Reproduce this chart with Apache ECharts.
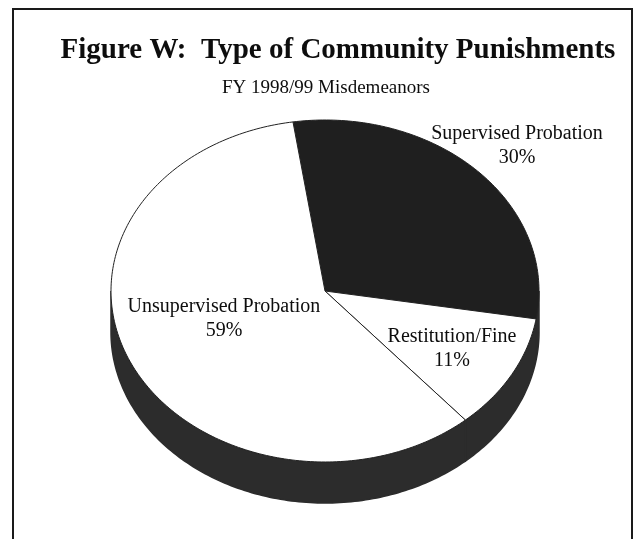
<!DOCTYPE html>
<html>
<head>
<meta charset="utf-8">
<script src="https://cdn.jsdelivr.net/npm/echarts@6/dist/echarts.min.js"></script>
<style>
html,body{margin:0;padding:0;background:#fff;}
#chart{width:635px;height:539px;}
</style>
</head>
<body>
<div id="chart"></div>
<script>
// ---- data ----
const titleText = 'Figure W:  Type of Community Punishments';
const subtitleText = 'FY 1998/99 Misdemeanors';
const categories = ['Supervised Probation', 'Restitution/Fine', 'Unsupervised Probation'];
const shares = [30, 11, 59];

// ---- styling ----
const sliceColors = ['#1f1f1f', '#ffffff', '#ffffff'];
const sideColor = '#2c2c2c';
const labelRadius = [1.26, 0.68, 0.52];
const labelShiftY = [6, 1, -10];
const geom = { cx: 325, cy: 291, rx: 214, ry: 171, depth: 41, startDeg: -8.6 };
const serif = "'Liberation Serif', 'Times New Roman', serif";

const total = shares.reduce((a, b) => a + b, 0);
let acc = 0;
const sliceData = shares.map((v, i) => {
  const start = geom.startDeg + acc / total * 360;
  acc += v;
  const end = geom.startDeg + acc / total * 360;
  return { name: categories[i], value: [start, end, v] };
});

function arcPts(a0, a1, dy) {
  const n = Math.max(2, Math.ceil(Math.abs(a1 - a0)));
  const pts = [];
  for (let i = 0; i <= n; i++) {
    const t = (a0 + (a1 - a0) * i / n) * Math.PI / 180;
    pts.push([geom.cx + geom.rx * Math.sin(t), geom.cy - geom.ry * Math.cos(t) + dy]);
  }
  return pts;
}

function renderSide(params, api) {
  const a0 = api.value(0), a1 = api.value(1);
  const lo = Math.max(a0, 90), hi = Math.min(a1, 270);
  if (lo >= hi) return null;
  const pts = arcPts(lo, hi, 0).concat(arcPts(hi, lo, geom.depth));
  return {
    type: 'polygon',
    shape: { points: pts },
    style: { fill: sideColor, stroke: sideColor, lineWidth: 1.5 }
  };
}

function renderTop(params, api) {
  const i = params.dataIndex;
  const a0 = api.value(0), a1 = api.value(1), v = api.value(2);
  const pts = [[geom.cx, geom.cy]].concat(arcPts(a0, a1, 0));
  const mid = ((a0 + a1) / 2) * Math.PI / 180;
  const k = labelRadius[i];
  const lx = geom.cx + geom.rx * k * Math.sin(mid);
  const ly = geom.cy - geom.ry * k * Math.cos(mid) + labelShiftY[i];
  return {
    type: 'group',
    children: [
      {
        type: 'polygon',
        shape: { points: pts },
        style: { fill: sliceColors[i], stroke: '#222', lineWidth: 1 }
      },
      {
        type: 'text',
        x: lx, y: ly,
        z2: 10,
        style: {
          text: categories[i] + '\n' + v + '%',
          fill: '#0d0d0d',
          font: 'normal 20px ' + serif,
          lineHeight: 24,
          align: 'center',
          verticalAlign: 'middle'
        }
      }
    ]
  };
}

const chart = echarts.init(document.getElementById('chart'), null, { renderer: 'canvas' });
chart.setOption({
  backgroundColor: '#ffffff',
  animation: false,
  title: [
    {
      text: titleText, left: 333, top: 31, textAlign: 'center',
      textStyle: { fontFamily: serif, fontWeight: 'bold', fontSize: 29, color: '#0d0d0d' }
    },
    {
      text: subtitleText, left: 321, top: 74, textAlign: 'center',
      textStyle: { fontFamily: serif, fontWeight: 'normal', fontSize: 19, color: '#0d0d0d' }
    }
  ],
  graphic: [
    {
      type: 'rect', z: -1,
      shape: { x: 13, y: 9, width: 619, height: 560 },
      style: { fill: 'none', stroke: '#1a1a1a', lineWidth: 2 }
    }
  ],
  series: [
    { type: 'custom', coordinateSystem: 'none', renderItem: renderSide, data: sliceData, z: 1, silent: true },
    { type: 'custom', coordinateSystem: 'none', renderItem: renderTop, data: sliceData, z: 2, silent: true }
  ]
});
</script>
</body>
</html>
